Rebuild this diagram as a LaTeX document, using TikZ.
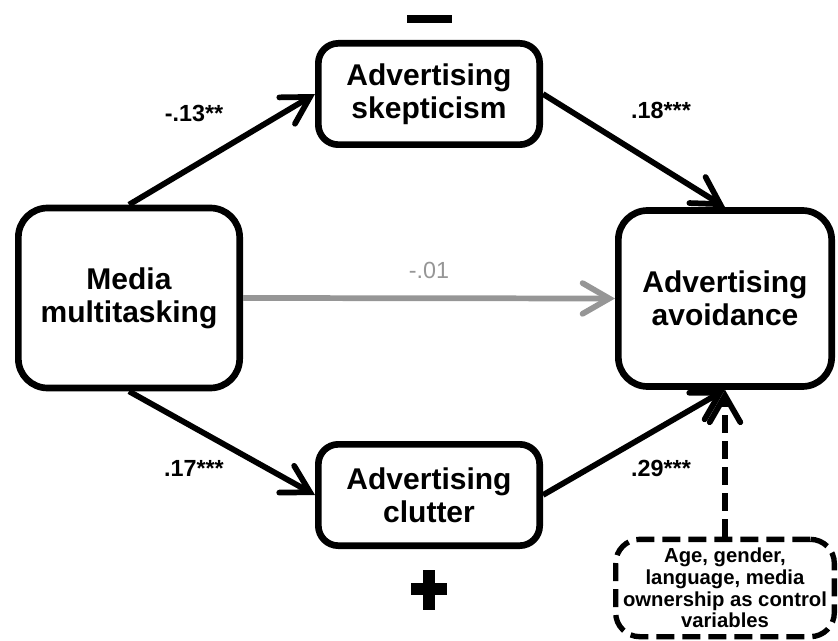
\documentclass[tikz,border=0pt]{standalone}
\usepackage{fontspec}
\setmainfont{Liberation Sans}
\usetikzlibrary{arrows.meta}
\definecolor{direct}{RGB}{150,150,150}
\begin{document}
\begin{tikzpicture}[x=0.75pt,y=-0.75pt,
    box/.style={draw,line width=5pt,rounded corners=22pt,align=center,inner sep=0pt,
      font=\fontsize{22.5}{25}\selectfont\bfseries},
    effect/.style={line width=4.3pt,-{Straight Barb[length=20pt,width=23pt,line cap=round]}},
    coef/.style={font=\fontsize{17.5}{20}\selectfont\bfseries}]
  \useasboundingbox (0,0) rectangle (838,641);
  % variables
  \node[box,minimum width=166pt,minimum height=135pt] (mm) at (129,298) {Media\\multitasking};
  \node[box,rounded corners=15pt,minimum width=166pt,minimum height=76pt] (skep) at (429,94) {Advertising\\skepticism};
  \node[box,rounded corners=15pt,minimum width=166pt,minimum height=76pt] (clut) at (429,495) {Advertising\\clutter};
  \node[box,minimum width=160pt,minimum height=132pt] (avoid) at (725,298.5) {Advertising\\avoidance};
  \node[box,dashed,dash pattern=on 13.5pt off 6pt,line width=4pt,rounded corners=18pt,
    minimum width=164pt,minimum height=73pt,font=\fontsize{15.2}{16.3}\selectfont\bfseries] (ctrl) at (725,588)
    {Age, gender,\\language, media\\ownership as control\\variables};
  % paths
  \draw[effect] (mm.north) -- (skep.west);
  \draw[effect] (skep.east) -- (avoid.north);
  \draw[effect] (mm.south) -- (clut.west);
  \draw[effect] (clut.east) -- (avoid.south);
  \draw[effect,direct] (mm.east) -- (avoid.west);
  \draw[effect,dash pattern=on 13.5pt off 6pt] (ctrl.north) -- (avoid.south);
  % coefficients
  \node[coef] (a1) at (194,113) {-.13**};
  \node[coef] (b1) at (661,110) {.18***};
  \node[coef] (a2) at (194,468) {.17***};
  \node[coef] (b2) at (661,468) {.29***};
  \node[coef,font=\fontsize{17.5}{20}\selectfont,text=direct] (c) at (429,270) {-.01};
  % signs
  \fill (407,15) rectangle (452,23);
  \fill (411,583) rectangle (447,595);
  \fill (423,570) rectangle (435,610);
\end{tikzpicture}
\end{document}
